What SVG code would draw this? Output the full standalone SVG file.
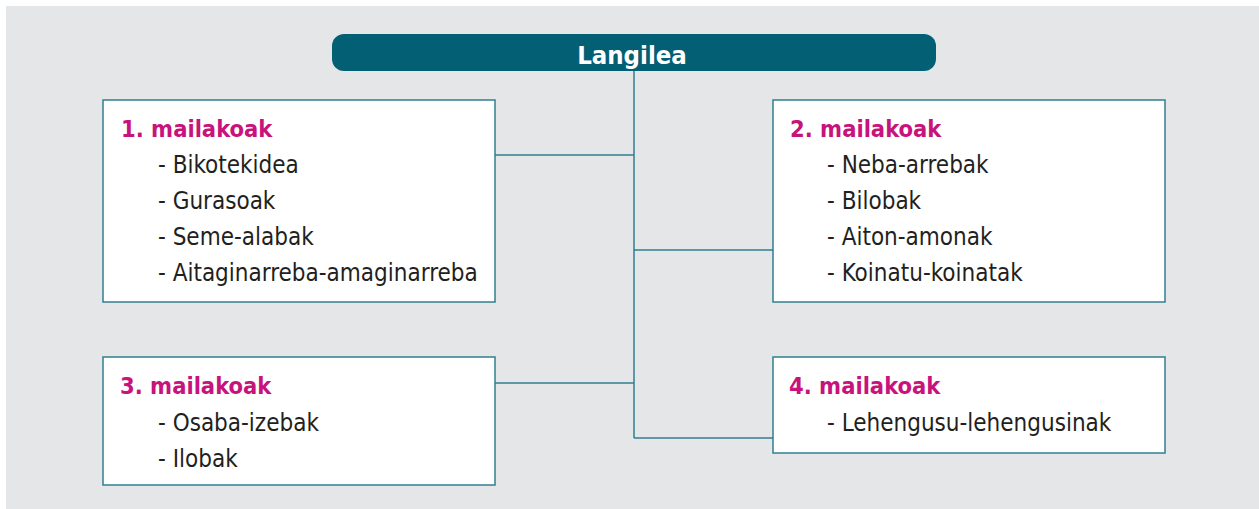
<svg xmlns="http://www.w3.org/2000/svg" width="1259" height="509" viewBox="0 0 1259 509">
<style>
.box{fill:#ffffff;stroke:#2f7f90;stroke-width:1.5}
.con{stroke:#2f7f90;stroke-width:1.5;fill:none}
.h{font-family:"DejaVu Sans Condensed","Liberation Sans",sans-serif;font-weight:bold;font-size:23.5px;fill:#c8127c}
.t{font-family:"DejaVu Sans Condensed","Liberation Sans",sans-serif;font-size:24px;fill:#231f20}
.title{font-family:"DejaVu Sans Condensed","Liberation Sans",sans-serif;font-weight:bold;font-size:25.5px;fill:#ffffff}
</style>
<rect x="0" y="0" width="1259" height="509" fill="#ffffff"/>
<rect x="6" y="6" width="1253" height="503" fill="#e5e6e8"/>
<g id="connectors">
<path class="con" d="M634 71V438M495 155H634M634 250H773M495 383H634M634 438H773"/>
</g>
<g id="root">
<rect x="332" y="34" width="604" height="37" rx="12" fill="#025f74"/>
<text class="title" x="632" y="64" text-anchor="middle">Langilea</text>
</g>
<g id="level1">
<rect class="box" x="103" y="100" width="392" height="202"/>
<text class="h" x="121" y="137">1. mailakoak</text>
<text class="t" x="158" y="173">- Bikotekidea</text>
<text class="t" x="158" y="209">- Gurasoak</text>
<text class="t" x="158" y="245">- Seme-alabak</text>
<text class="t" x="158" y="281">- Aitaginarreba-amaginarreba</text>
</g>
<g id="level2">
<rect class="box" x="773" y="100" width="392" height="202"/>
<text class="h" x="790" y="137">2. mailakoak</text>
<text class="t" x="827" y="173">- Neba-arrebak</text>
<text class="t" x="827" y="209">- Bilobak</text>
<text class="t" x="827" y="245">- Aiton-amonak</text>
<text class="t" x="827" y="281">- Koinatu-koinatak</text>
</g>
<g id="level3">
<rect class="box" x="103" y="357" width="392" height="128"/>
<text class="h" x="120" y="394">3. mailakoak</text>
<text class="t" x="158" y="431">- Osaba-izebak</text>
<text class="t" x="158" y="467">- Ilobak</text>
</g>
<g id="level4">
<rect class="box" x="773" y="357" width="392" height="96"/>
<text class="h" x="789" y="394">4. mailakoak</text>
<text class="t" x="827" y="431">- Lehengusu-lehengusinak</text>
</g>
</svg>
